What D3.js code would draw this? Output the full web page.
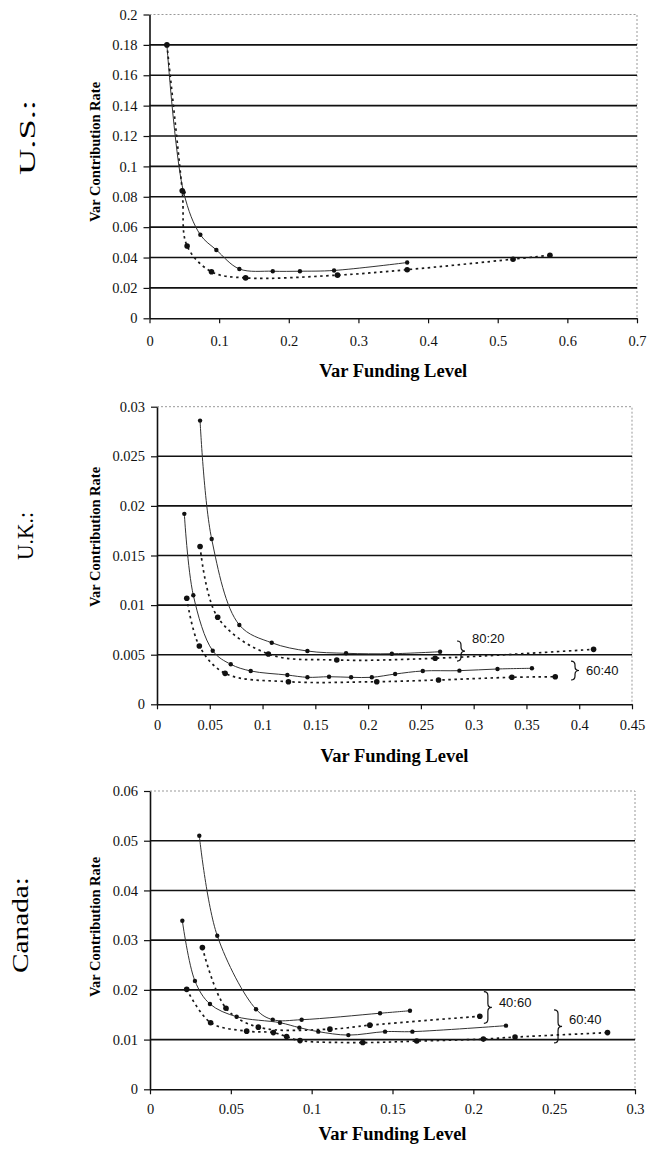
<!DOCTYPE html>
<html>
<head>
<meta charset="utf-8">
<script src="https://cdn.jsdelivr.net/npm/d3@7"></script>
<style>
  body { margin: 0; background: #fff; }
  svg { display: block; }
</style>
</head>
<body>
<svg id="chart" width="654" height="1150"></svg>
<script>
const svg = d3.select("#chart");
const serif = "'Liberation Serif','Times New Roman',serif";
const sans = "'Liberation Sans',Arial,sans-serif";

// ---- U.S. ----
const usXTicks = [0, 0.1, 0.2, 0.3, 0.4, 0.5, 0.6, 0.7];
const usYTicks = [0, 0.02, 0.04, 0.06, 0.08, 0.1, 0.12, 0.14, 0.16, 0.18, 0.2];
const usSolid = [[0.025,0.18],[0.049,0.083],[0.073,0.055],[0.096,0.045],[0.129,0.0325],
  [0.177,0.031],[0.216,0.031],[0.265,0.0315],[0.370,0.0367]];
const usDotted = [[0.025,0.18],[0.047,0.084],[0.054,0.0476],[0.089,0.0306],[0.138,0.0266],
  [0.270,0.0284],[0.370,0.032],[0.522,0.0389],[0.575,0.0415]];

// ---- U.K. ----
const ukXTicks = [0, 0.05, 0.1, 0.15, 0.2, 0.25, 0.3, 0.35, 0.4, 0.45];
const ukYTicks = [0, 0.005, 0.01, 0.015, 0.02, 0.025, 0.03];
const uk8020Solid = [[0.0408,0.0286],[0.0518,0.01666],[0.078,0.0080],[0.1087,0.0062],[0.1425,0.00537],
  [0.1791,0.00514],[0.2225,0.0051],[0.2682,0.0053]];
const uk8020Dotted = [[0.0408,0.0159],[0.0575,0.00877],[0.1055,0.00507],[0.1703,0.00447],
  [0.2635,0.00464],[0.4136,0.00554]];
const uk6040Solid = [[0.0259,0.0192],[0.0344,0.0110],[0.0528,0.0054],[0.0699,0.00403],[0.0888,0.00336],
  [0.1235,0.00295],[0.1425,0.00272],[0.163,0.00278],[0.1839,0.00272],[0.2035,0.00272],
  [0.2256,0.00305],[0.2518,0.00336],[0.2865,0.00339],[0.3226,0.00356],[0.3552,0.00363]];
const uk6040Dotted = [[0.0282,0.01069],[0.0401,0.00588],[0.0645,0.00312],[0.1245,0.00228],
  [0.2082,0.00228],[0.2667,0.00245],[0.3362,0.00272],[0.3773,0.00278]];

// ---- Canada ----
const caXTicks = [0, 0.05, 0.1, 0.15, 0.2, 0.25, 0.3];
const caYTicks = [0, 0.01, 0.02, 0.03, 0.04, 0.05, 0.06];
const ca4060Solid = [[0.0305,0.051],[0.0416,0.0309],[0.0656,0.0161],[0.0759,0.0140],[0.0938,0.0140],
  [0.1423,0.0153],[0.1608,0.0158]];
const ca4060Dotted = [[0.0324,0.0285],[0.047,0.0163],[0.067,0.0125],[0.1113,0.0121],[0.136,0.0129],
  [0.204,0.0147]];
const ca6040Solid = [[0.020,0.0339],[0.0278,0.0218],[0.0371,0.01716],[0.0536,0.0146],[0.0804,0.0134],
  [0.0924,0.0124],[0.1041,0.0116],[0.1227,0.0109],[0.1454,0.0116],[0.1623,0.0116],[0.2202,0.0128]];
const ca6040Dotted = [[0.0227,0.0201],[0.0375,0.0134],[0.0598,0.0117],[0.0763,0.0114],[0.0845,0.0106],
  [0.0928,0.0098],[0.1316,0.0094],[0.165,0.0097],[0.2062,0.0101],[0.2258,0.0105],[0.283,0.0114]];

// brace labels (data units)
const ukNotes = [
  {label: "80:20", x: 0.288, y0: 0.00638, y1: 0.00436, ty: 0.00618},
  {label: "60:40", x: 0.396, y0: 0.00436, y1: 0.00245, ty: 0.00295}
];
const caNotes = [
  {label: "40:60", x: 0.209, y0: 0.01964, y1: 0.01328, ty: 0.01656},
  {label: "60:40", x: 0.2524, y0: 0.01596, y1: 0.00932, ty: 0.01314}
];

const panels = [
  {name: "U.S.:", nameLen: 75, nameX: 35, nameY: 137.5, yTitleY: 152, xTitleDy: 59, tickPad: 12,
   xTicks: usXTicks, yTicks: usYTicks,
   left: 149.5, right: 637, top: 14.5, bottom: 318.3,
   series: [{pts: usSolid, dotted: false}, {pts: usDotted, dotted: true}], notes: []},
  {name: "U.K.:", nameLen: 48, nameX: 33, nameY: 536, yTitleY: 537, xTitleDy: 57.5, tickPad: 10,
   xTicks: ukXTicks, yTicks: ukYTicks,
   left: 157, right: 632, top: 406.7, bottom: 704.3,
   series: [{pts: uk8020Solid, dotted: false}, {pts: uk8020Dotted, dotted: true},
            {pts: uk6040Solid, dotted: false}, {pts: uk6040Dotted, dotted: true}], notes: ukNotes},
  {name: "Canada:", nameLen: 96, nameX: 28, nameY: 925, yTitleY: 927, xTitleDy: 51, tickPad: 9.5,
   xTicks: caXTicks, yTicks: caYTicks,
   left: 150, right: 635, top: 791, bottom: 1089.3,
   series: [{pts: ca4060Solid, dotted: false}, {pts: ca4060Dotted, dotted: true},
            {pts: ca6040Solid, dotted: false}, {pts: ca6040Dotted, dotted: true}], notes: caNotes}
];

panels.forEach(p => drawPanel(p));

function drawPanel(p) {
  const x = d3.scaleLinear().domain(d3.extent(p.xTicks)).range([p.left, p.right]);
  const y = d3.scaleLinear().domain(d3.extent(p.yTicks)).range([p.bottom, p.top]);
  const g = svg.append("g");

  // plot border (top / right), light dotted
  g.append("path")
    .attr("d", `M${p.left},${p.top}H${p.right}V${p.bottom}`)
    .attr("fill", "none").attr("stroke", "#999").attr("stroke-width", 1)
    .attr("stroke-dasharray", "2,2");

  // gridlines
  g.selectAll(".grid")
    .data(p.yTicks.slice(1, -1))
    .join("line")
    .attr("x1", p.left).attr("x2", p.right)
    .attr("y1", d => y(d)).attr("y2", d => y(d))
    .attr("stroke", "#111").attr("stroke-width", 1.6);

  // axes
  const yAxis = g.append("g")
    .attr("transform", `translate(${p.left},0)`)
    .call(d3.axisLeft(y).tickValues(p.yTicks).tickFormat(d => String(d))
      .tickSize(6).tickSizeOuter(0).tickPadding(6));
  const xAxis = g.append("g")
    .attr("transform", `translate(0,${p.bottom})`)
    .call(d3.axisBottom(x).tickValues(p.xTicks).tickFormat(d => String(d))
      .tickSize(5).tickSizeOuter(0).tickPadding(p.tickPad));
  [yAxis, xAxis].forEach(a => {
    a.attr("font-family", serif).attr("font-size", 14.5);
    a.selectAll("text").attr("fill", "#111");
    a.selectAll("line").attr("stroke", "#111").attr("stroke-width", 1.2);
    a.select(".domain").attr("stroke", "#111").attr("stroke-width", 1.6);
  });

  // titles
  g.append("text")
    .attr("x", (p.left + p.right) / 2).attr("y", p.bottom + p.xTitleDy)
    .attr("text-anchor", "middle")
    .attr("font-family", serif).attr("font-weight", "bold").attr("font-size", 18.5)
    .text("Var Funding Level");
  g.append("text")
    .attr("transform", `translate(100,${p.yTitleY}) rotate(-90)`)
    .attr("text-anchor", "middle")
    .attr("font-family", serif).attr("font-weight", "bold").attr("font-size", 14.5)
    .text("Var Contribution Rate");
  g.append("text")
    .attr("transform", `translate(${p.nameX},${p.nameY}) rotate(-90)`)
    .attr("text-anchor", "middle")
    .attr("font-family", serif).attr("font-size", 24)
    .attr("textLength", p.nameLen).attr("lengthAdjust", "spacingAndGlyphs")
    .text(p.name);

  // series
  const line = d3.line()
    .x(d => x(d[0])).y(d => y(d[1]))
    .curve(d3.curveCatmullRom.alpha(0.5));
  p.series.forEach(s => {
    g.append("path")
      .datum(s.pts)
      .attr("d", line)
      .attr("fill", "none")
      .attr("stroke", s.dotted ? "#1a1a1a" : "#333")
      .attr("stroke-width", s.dotted ? 1.7 : 1)
      .attr("stroke-dasharray", s.dotted ? "2.5,3.5" : null);
    g.selectAll(null)
      .data(s.pts)
      .join("circle")
      .attr("cx", d => x(d[0])).attr("cy", d => y(d[1]))
      .attr("r", s.dotted ? 2.8 : 2.2)
      .attr("fill", "#111");
  });

  // braces + labels
  p.notes.forEach(n => {
    const bx = x(n.x), y0 = y(n.y0), y1 = y(n.y1), mid = (y0 + y1) / 2, w = 4;
    g.append("path")
      .attr("d", `M${bx - w},${y0}Q${bx},${y0} ${bx},${y0 + w}L${bx},${mid - w}` +
        `Q${bx},${mid} ${bx + w},${mid}Q${bx},${mid} ${bx},${mid + w}` +
        `L${bx},${y1 - w}Q${bx},${y1} ${bx - w},${y1}`)
      .attr("fill", "none").attr("stroke", "#111").attr("stroke-width", 1.2);
    g.append("text")
      .attr("x", bx + 11).attr("y", y(n.ty))
      .attr("font-family", sans).attr("font-size", 13)
      .attr("fill", "#111")
      .text(n.label);
  });
}
</script>
</body>
</html>
